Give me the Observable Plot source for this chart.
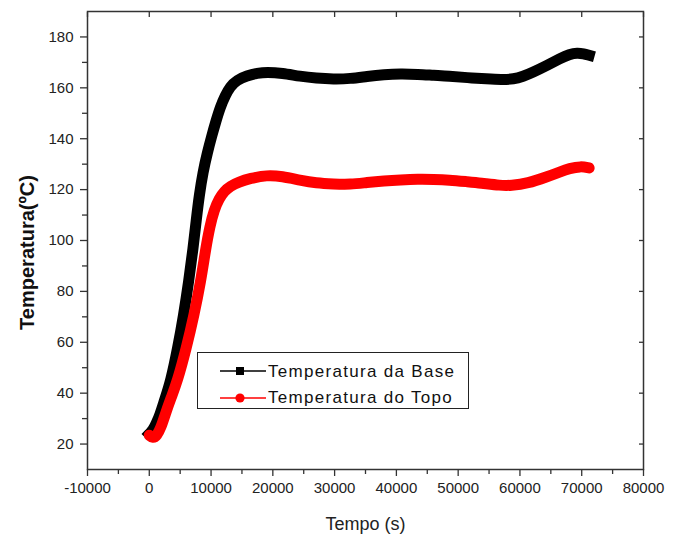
<!DOCTYPE html>
<html>
<head>
<meta charset="utf-8">
<script src="https://cdn.jsdelivr.net/npm/d3@7"></script>
<script src="https://cdn.jsdelivr.net/npm/@observablehq/plot@0.6"></script>
<style>
  body { margin: 0; background: #fff; }
  #wrap { position: relative; width: 679px; height: 535px; }
  #legend { position: absolute; left: 197px; top: 352px; width: 272px; height: 57px; box-sizing: border-box;
    border: 1px solid #222; background: #fff; font-family: "Liberation Sans", Arial, sans-serif; font-size: 17px;
    letter-spacing: 1.3px; color: #111; }
  #legend .sym { position: absolute; left: 22px; }
  #legend .lab { position: absolute; left: 70px; line-height: 17px; white-space: nowrap; }
  [aria-label="xlabel"] text { letter-spacing: 0.9px; }
  [aria-label="ylabel"] text { letter-spacing: 0.6px; }
</style>
</head>
<body>
<div id="wrap"></div>
<script>
// Temperatura da Base (black)
const baseTime = [0, 600, 1100, 1730, 2500, 3470, 4600, 5570, 6380, 7090, 7600, 8100, 8700, 9400, 10100, 10800, 11500, 12300, 13100, 14170, 15800, 17500, 19040, 21500, 24440, 27000, 29840, 32550, 35250, 38000, 40650, 43500, 46050, 48500, 51460, 54700, 57000, 59000, 60500, 62000, 64440, 66500, 68000, 69300, 70300, 71200];
const baseTemp = [24, 25.5, 28, 31.5, 37.5, 44.6, 57.7, 70.8, 83.9, 96.9, 108, 118, 127, 134.5, 141, 147, 152.5, 157, 160.5, 163, 164.8, 165.8, 166.2, 165.8, 164.5, 163.8, 163.4, 163.6, 164.5, 165.2, 165.5, 165.3, 164.9, 164.6, 164, 163.5, 163.2, 163.4, 164.5, 166, 168.9, 171.5, 173.2, 173.8, 173.4, 172.8];
// Temperatura do Topo (red)
const topoTime = [0, 600, 1200, 1900, 2550, 3500, 4540, 6000, 7250, 8330, 9140, 9800, 10500, 11300, 12200, 13090, 14500, 16330, 19040, 21500, 24440, 27000, 29840, 32550, 35250, 38000, 40650, 43500, 46050, 48500, 51460, 53630, 56920, 58500, 61240, 64440, 66500, 68000, 69850, 71200];
const topoTemp = [23.5, 22.3, 23.2, 26.5, 31.5, 38, 44.6, 57.7, 70.8, 83.9, 96.9, 105.5, 112, 116.5, 119.5, 121.3, 123, 124.4, 125.7, 125.2, 123.7, 122.6, 122.2, 122, 122.8, 123.4, 123.8, 124.1, 124, 123.8, 123.1, 122.6, 121.6, 121.6, 122.4, 125.1, 127, 128.3, 129.2, 128.5];

const xTicks = [-10000, 0, 10000, 20000, 30000, 40000, 50000, 60000, 70000, 80000];
const xMinorTicks = [-5000, 5000, 15000, 25000, 35000, 45000, 55000, 65000, 75000];
const yTicks = [20, 40, 60, 80, 100, 120, 140, 160, 180];
const yMinorTicks = [30, 50, 70, 90, 110, 130, 150, 170];
const seriesNames = ["Temperatura da Base", "Temperatura do Topo"];
const xLabel = "Tempo (s)";
const yLabel = "Temperatura(ºC)";

const base = baseTime.map((t, i) => ({t, T: baseTemp[i]}));
const topo = topoTime.map((t, i) => ({t, T: topoTemp[i]}));

const axisColor = "#333";
const chart = Plot.plot({
  width: 679,
  height: 535,
  marginLeft: 87,
  marginRight: 36,
  marginTop: 11,
  marginBottom: 66,
  style: {fontFamily: "'Liberation Sans', Arial, sans-serif", fontSize: "15px", color: "#222", background: "#fff"},
  x: {domain: [-10000, 80000]},
  y: {domain: [10, 190]},
  marks: [
    Plot.line(base, {x: "t", y: "T", stroke: "#000", strokeWidth: 11, curve: "basis", strokeLinecap: "square", strokeLinejoin: "round"}),
    Plot.line(topo, {x: "t", y: "T", stroke: "#f00", strokeWidth: 11, curve: "basis", strokeLinecap: "round", strokeLinejoin: "round"}),
    Plot.axisX(xTicks, {anchor: "bottom", tickSize: 7, tickPadding: 6, tickFormat: d => String(d), fontSize: 15, stroke: axisColor, strokeWidth: 1.3, label: null}),
    Plot.axisX(xMinorTicks, {anchor: "bottom", tickSize: 5, text: null, stroke: axisColor, strokeWidth: 1.3, label: null}),
    Plot.axisX(xTicks, {anchor: "top", tickSize: -5, text: null, stroke: axisColor, strokeWidth: 1.3, label: null}),
    Plot.axisY(yTicks, {anchor: "left", tickSize: 7, tickPadding: 7, tickFormat: d => String(d), fontSize: 15, stroke: axisColor, strokeWidth: 1.3, label: null}),
    Plot.axisY(yMinorTicks, {anchor: "left", tickSize: 5, text: null, stroke: axisColor, strokeWidth: 1.3, label: null}),
    Plot.axisY(yTicks, {anchor: "right", tickSize: -5, text: null, stroke: axisColor, strokeWidth: 1.3, label: null}),
    Plot.frame({stroke: axisColor, strokeWidth: 1.5}),
    Plot.text([yLabel], {frameAnchor: "left", textAnchor: "middle", lineAnchor: "middle", rotate: -90, dx: -60, dy: 12, fontSize: 20, fontWeight: "bold", fill: "#111", ariaLabel: "ylabel"}),
    Plot.text([xLabel], {frameAnchor: "bottom", textAnchor: "middle", lineAnchor: "middle", dy: 55, fontSize: 18, fill: "#222", ariaLabel: "xlabel"})
  ]
});
const wrap = document.getElementById("wrap");
wrap.appendChild(chart);

// legend
const leg = document.createElement("div");
leg.id = "legend";
const colors = ["#000", "#f00"];
const symTops = [12, 38.7];
const labTops = [10.3, 35.9];
seriesNames.forEach((name, i) => {
  const marker = i === 0
    ? `<rect x="16" y="2" width="8" height="8" fill="${colors[i]}"/>`
    : `<circle cx="20" cy="6" r="4.6" fill="${colors[i]}"/>`;
  leg.insertAdjacentHTML("beforeend",
    `<svg class="sym" width="48" height="12" style="top:${symTops[i]}px"><line x1="0" y1="6" x2="46" y2="6" stroke="${colors[i]}" stroke-width="1.5"/>${marker}</svg>` +
    `<span class="lab" style="top:${labTops[i]}px">${name}</span>`);
});
wrap.appendChild(leg);
</script>
</body>
</html>
